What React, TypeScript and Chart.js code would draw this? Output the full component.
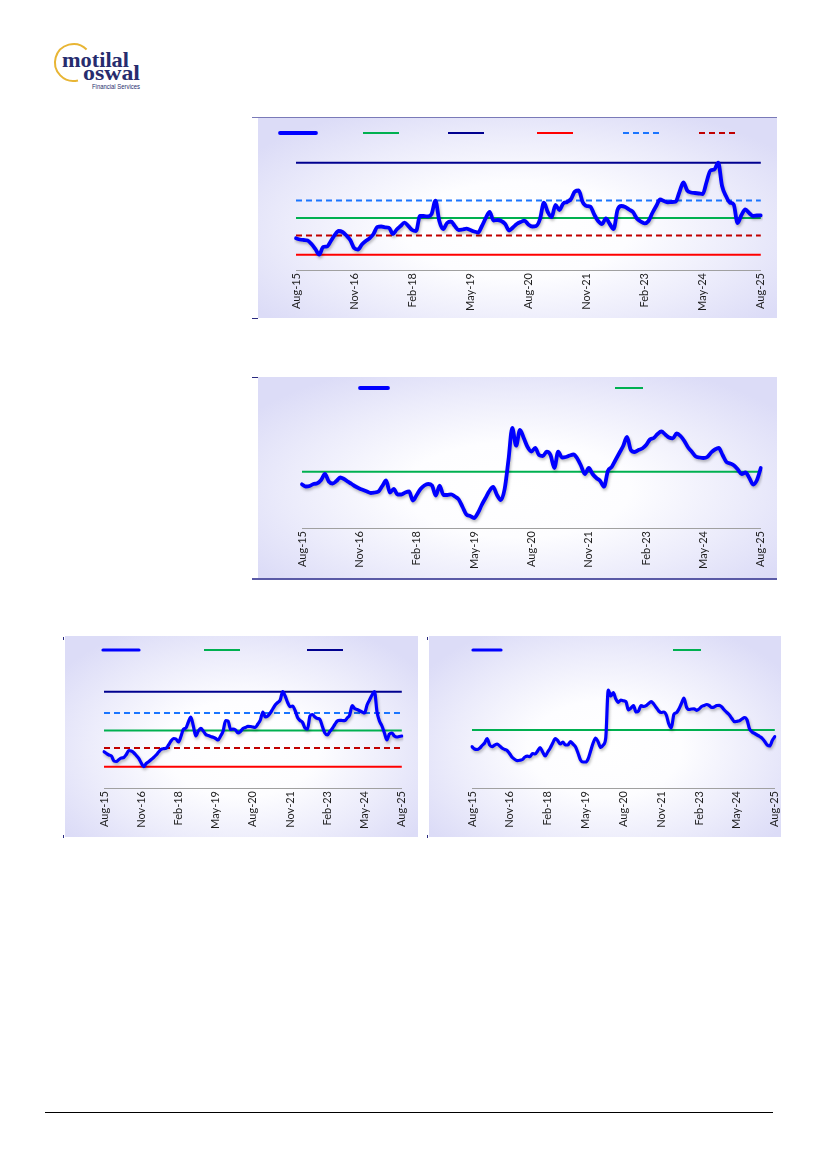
import React, { useEffect, useRef } from "react";
import { Chart, registerables } from "chart.js";

Chart.register(...registerables);

// ---------- categories (monthly, Aug-15 .. Aug-25) ----------
const MONTH_NAMES = ["Jan", "Feb", "Mar", "Apr", "May", "Jun", "Jul", "Aug", "Sep", "Oct", "Nov", "Dec"];
const START_MONTH = 7;
const START_YEAR = 15;
const N_MONTHS = 121;
const categories: string[] = Array.from({ length: N_MONTHS }, (_, i) =>
  `${MONTH_NAMES[(START_MONTH + i) % 12]}-${START_YEAR + Math.floor((START_MONTH + i) / 12)}`
);
const tickLabels = ["Aug-15", "Nov-16", "Feb-18", "May-19", "Aug-20", "Nov-21", "Feb-23", "May-24", "Aug-25"];

// ---------- chart 1: P/E with bands ----------
const peSeries = [
  16.17, 16.05, 16.0, 15.95, 15.6, 15.1, 14.53, 15.3, 15.35, 15.9,
  16.5, 16.9, 16.8, 16.45, 16.0, 15.2, 15.05, 15.55, 15.9, 16.17,
  16.6, 17.3, 17.35, 17.27, 17.23, 16.6, 17.05, 17.4, 17.73, 17.4,
  17.0, 16.9, 18.4, 18.4, 18.35, 18.6, 19.93, 17.9, 17.1, 17.7,
  17.85, 17.4, 17.0, 17.05, 17.13, 17.0, 16.85, 16.75, 17.4, 18.2,
  18.8, 17.95, 18.0, 17.9, 17.6, 16.95, 17.25, 17.6, 17.8, 17.93,
  17.55, 17.35, 17.4, 18.1, 19.73, 18.8, 18.3, 19.5, 19.0, 19.65,
  19.8, 20.1, 20.85, 20.95, 19.8, 19.4, 19.33, 18.55, 17.9, 17.6,
  18.15, 17.6, 17.1, 19.0, 19.4, 19.3, 19.05, 18.8, 18.15, 17.85,
  17.67, 17.9, 18.7, 19.4, 20.05, 19.9, 19.77, 19.8, 19.83, 20.8,
  21.75, 20.95, 20.75, 20.7, 20.65, 20.6, 21.8, 22.95, 23.05, 23.73,
  21.4, 20.4, 19.75, 19.55, 17.7, 18.5, 19.05, 18.7, 18.4, 18.45,
  18.47,
];
const peAvg = 18.2;
const peMax = 23.73;
const peMin = 14.53;
const pePlus1SD = 19.95;
const peMinus1SD = 16.45;

// ---------- chart 2: relative P/E ----------
const relPeSeries = [
  11.57, 11.35, 11.4, 11.6, 11.67, 12.0, 12.6, 11.85, 11.65, 11.9,
  12.25, 12.1, 11.83, 11.6, 11.35, 11.15, 11.0, 10.85, 10.7, 10.75,
  10.85, 11.4, 11.95, 10.75, 11.1, 10.55, 10.55, 10.75, 10.85, 9.95,
  10.5, 11.1, 11.45, 11.6, 11.45, 10.45, 11.43, 10.5, 10.5, 10.57,
  10.35, 10.05, 9.3, 8.55, 8.4, 8.2, 8.7, 9.5, 10.2, 10.9,
  11.3, 10.5, 10.0, 11.1, 14.0, 17.2, 15.43, 17.0, 16.2, 15.3,
  14.85, 15.2, 14.5, 14.4, 14.83, 14.5, 13.2, 14.83, 14.25, 14.3,
  14.45, 14.55, 14.15, 13.4, 12.6, 13.2, 12.6, 12.2, 11.9, 11.33,
  12.9, 13.3, 14.0, 14.7, 15.4, 16.3, 15.0, 14.8, 15.0, 15.15,
  15.5, 16.05, 16.2, 16.6, 16.85, 16.55, 16.25, 16.17, 16.65, 16.4,
  15.9, 15.25, 14.8, 14.35, 14.25, 14.2, 14.3, 14.75, 15.05, 15.2,
  14.5, 13.8, 13.65, 13.45, 13.05, 12.6, 12.75, 12.2, 11.55, 12.0,
  13.2,
];
const relPeAvg = 12.83;

// ---------- chart 3: P/B with bands ----------
const pbSeries = [
  14.83, 14.65, 14.5, 14.4, 13.9, 13.85, 14.05, 14.2, 14.25, 14.55,
  14.95, 14.9, 14.73, 14.45, 14.17, 13.7, 13.33, 13.65, 13.83, 14.05,
  14.25, 14.5, 14.8, 15.07, 15.13, 15.17, 15.5, 15.9, 16.15, 16.1,
  15.8, 16.35, 17.07, 17.2, 17.8, 18.3, 17.4, 16.4, 16.9, 17.17,
  16.9, 16.55, 16.45, 16.35, 16.27, 16.15, 16.0, 16.4, 16.9, 17.95,
  17.9, 17.05, 17.1, 17.0, 16.7, 16.85, 17.15, 17.25, 17.37, 17.35,
  17.3, 17.27, 17.6, 18.0, 18.8, 18.3, 18.4, 18.7, 19.1, 19.5,
  19.75, 20.0, 20.83, 20.4, 19.75, 19.33, 19.4, 18.95, 18.25, 17.95,
  17.75, 17.2, 17.1, 18.4, 18.55, 18.3, 18.15, 18.07, 17.35, 16.7,
  16.5, 16.85, 17.15, 17.55, 17.9, 17.97, 17.95, 17.93, 18.2, 18.5,
  19.45, 19.15, 19.05, 18.93, 18.8, 18.7, 19.5, 20.0, 20.5, 20.83,
  18.83, 17.9, 17.4, 16.7, 16.0, 16.6, 16.7, 16.4, 16.3, 16.35,
  16.4,
];
const pbAvg = 16.95;
const pbMax = 20.83;
const pbMin = 13.33;
const pbPlus1SD = 18.7;
const pbMinus1SD = 15.2;

// ---------- chart 4: relative P/B ----------
const relPbSeries = [
  10.33, 10.1, 10.05, 10.17, 10.45, 10.7, 11.15, 10.5, 10.33, 10.5,
  10.6, 10.4, 10.17, 10.05, 9.93, 9.6, 9.25, 9.05, 8.93, 8.97,
  9.05, 9.3, 9.38, 9.33, 9.65, 9.6, 9.9, 10.25, 9.8, 9.4,
  9.8, 10.2, 10.7, 11.15, 10.93, 10.6, 10.8, 10.5, 10.5, 10.83,
  10.6, 10.33, 9.7, 9.0, 8.8, 8.8, 9.1, 9.9, 10.7, 11.2,
  10.8, 10.25, 10.5, 11.2, 16.0, 15.4, 15.73, 15.1, 14.77, 15.0,
  14.92, 14.83, 14.0, 14.2, 14.45, 13.8, 13.9, 14.45, 14.35, 14.43,
  14.65, 14.83, 14.6, 14.25, 13.9, 13.75, 13.8, 13.5, 12.6, 12.2,
  13.55, 13.73, 14.1, 14.65, 15.2, 14.3, 14.05, 14.1, 14.12, 13.97,
  14.1, 14.35, 14.45, 14.55, 14.45, 14.25, 14.3, 14.45, 14.47, 14.3,
  14.0, 13.75, 13.5, 13.15, 12.83, 12.87, 12.92, 13.1, 13.25, 13.0,
  12.1, 11.8, 11.65, 11.5, 11.35, 11.17, 10.85, 10.5, 10.4, 10.95,
  11.33,
];
const relPbAvg = 12.0;

// ---------- styles ----------
const C_MAIN = "#0000ff";
const C_AVG = "#00b050";
const C_MAX = "#00008f";
const C_MIN = "#ff0000";
const C_PLUS = "#1a75ff";
const C_MINUS = "#c00000";
const TICK_FONT = 'Lato, "Liberation Sans", sans-serif';

const flat = (v: number) => categories.map(() => v);

type SeriesSpec = { label: string; data: number[]; color: string; width: number; dash?: number[]; main?: boolean };
type PanelSpec = {
  left: number; top: number; w: number; h: number; canvasW: number;
  padding: { left: number; right: number; top: number; bottom: number };
  axisH: number; yMin: number; yMax: number;
  legend: { xs: number[]; y: number; len: number };
  series: SeriesSpec[];
};

const bandSeries = (main: number[], avg: number, max: number, min: number, p1: number, m1: number, w: number): SeriesSpec[] => [
  { label: "Main", data: main, color: C_MAIN, width: w, main: true },
  { label: "Avg", data: flat(avg), color: C_AVG, width: 2 },
  { label: "Max", data: flat(max), color: C_MAX, width: 2 },
  { label: "Min", data: flat(min), color: C_MIN, width: 2 },
  { label: "+1SD", data: flat(p1), color: C_PLUS, width: 2, dash: [6, 4] },
  { label: "-1SD", data: flat(m1), color: C_MINUS, width: 2, dash: [6, 4] },
];

const panels: PanelSpec[] = [
  {
    left: 258, top: 118, w: 519, h: 200, canvasW: 519,
    padding: { left: 38, right: 14, top: 22, bottom: 0 },
    axisH: 48, yMin: 13, yMax: 26,
    legend: { xs: [22, 105, 190, 279, 365, 441], y: 15, len: 36 },
    series: bandSeries(peSeries, peAvg, peMax, peMin, pePlus1SD, peMinus1SD, 3.8),
  },
  {
    left: 258, top: 377, w: 519, h: 201, canvasW: 519,
    padding: { left: 44, right: 10, top: 23, bottom: 0 },
    axisH: 50, yMin: 7.2, yMax: 20,
    legend: { xs: [102, 357], y: 11, len: 28 },
    series: [
      { label: "Relative", data: relPeSeries, color: C_MAIN, width: 3.8, main: true },
      { label: "Avg", data: flat(relPeAvg), color: C_AVG, width: 2 },
    ],
  },
  {
    left: 65, top: 636, w: 353, h: 201, canvasW: 353,
    padding: { left: 39, right: 9, top: 34, bottom: 0 },
    axisH: 49, yMin: 11.2, yMax: 23,
    legend: { xs: [38, 139, 242], y: 14, len: 36 },
    series: bandSeries(pbSeries, pbAvg, pbMax, pbMin, pbPlus1SD, pbMinus1SD, 3.2),
  },
  {
    left: 429, top: 636, w: 352, h: 201, canvasW: 362,
    padding: { left: 43, right: 12, top: 34, bottom: 0 },
    axisH: 49, yMin: 6.2, yMax: 18,
    legend: { xs: [44, 244], y: 14, len: 28 },
    series: [
      { label: "Relative", data: relPbSeries, color: C_MAIN, width: 3.2, main: true },
      { label: "Avg", data: flat(relPbAvg), color: C_AVG, width: 2 },
    ],
  },
];

// ---------- plugins ----------
const makeLegendPlugin = (legend: PanelSpec["legend"]) => ({
  id: "lineLegend",
  afterDraw(chart: any) {
    const ctx = chart.ctx;
    chart.data.datasets.forEach((ds: any, i: number) => {
      const x = legend.xs[i];
      if (x === undefined) return;
      ctx.save();
      ctx.strokeStyle = ds.borderColor;
      ctx.lineWidth = ds.borderWidth;
      ctx.setLineDash(ds.borderDash || []);
      ctx.lineCap = ds.borderDash ? "butt" : ds.borderWidth > 2.5 ? "round" : "butt";
      ctx.beginPath();
      ctx.moveTo(x, legend.y);
      ctx.lineTo(x + legend.len, legend.y);
      ctx.stroke();
      ctx.restore();
    });
  },
});

const shadowPlugin = {
  id: "mainShadow",
  beforeDatasetDraw(chart: any, args: any) {
    if (args.index === 0) {
      const c = chart.ctx;
      c.save();
      c.shadowColor = "rgba(0,0,0,0.28)";
      c.shadowBlur = 3;
      c.shadowOffsetX = 1;
      c.shadowOffsetY = 2;
    }
  },
  afterDatasetDraw(chart: any, args: any) {
    if (args.index === 0) chart.ctx.restore();
  },
};

function buildConfig(spec: PanelSpec): any {
  return {
    type: "line",
    data: {
      labels: categories,
      datasets: spec.series.map((s) => ({
        label: s.label,
        data: s.data,
        borderColor: s.color,
        backgroundColor: s.color,
        borderWidth: s.width,
        borderDash: s.dash,
        pointRadius: 0,
        pointHoverRadius: 0,
        fill: false,
        tension: s.main ? 0.4 : 0,
        cubicInterpolationMode: s.main ? "monotone" : "default",
        borderCapStyle: s.main ? "round" : "butt",
        borderJoinStyle: "round",
      })),
    },
    options: {
      responsive: false,
      animation: false,
      events: [],
      layout: { padding: spec.padding },
      plugins: { legend: { display: false }, tooltip: { enabled: false }, title: { display: false } },
      scales: {
        x: {
          type: "category",
          offset: false,
          grid: { display: false, drawTicks: false },
          border: { display: true, color: "#a0a0a0", width: 1 },
          ticks: {
            autoSkip: false,
            maxRotation: 90,
            minRotation: 90,
            padding: 3,
            color: "#1e1e1e",
            font: { family: TICK_FONT, size: 11 },
            callback: (_v: any, i: number) => (tickLabels.includes(categories[i]) ? categories[i] : ""),
          },
          afterFit: (scale: any) => {
            scale.height = spec.axisH;
          },
        },
        y: { display: false, min: spec.yMin, max: spec.yMax },
      },
    },
    plugins: [makeLegendPlugin(spec.legend), shadowPlugin],
  };
}

function Panel({ spec }: { spec: PanelSpec }) {
  const ref = useRef<HTMLCanvasElement>(null);
  useEffect(() => {
    if (!ref.current) return;
    const chart = new Chart(ref.current, buildConfig(spec));
    return () => chart.destroy();
  }, [spec]);
  return (
    <div
      style={{
        position: "absolute",
        left: spec.left,
        top: spec.top,
        width: spec.w,
        height: spec.h,
        overflow: "hidden",
        background:
          "radial-gradient(ellipse 62% 68% at 50% 56%, #ffffff 0%, #fdfdff 35%, #ececfb 70%, #dcdcf7 100%)",
      }}
    >
      <canvas
        ref={ref}
        width={spec.canvasW}
        height={spec.h}
        style={{ position: "absolute", left: 0, top: 0, display: "block" }}
      />
    </div>
  );
}

const Bar = ({ l, t, w, h, c }: { l: number; t: number; w: number; h: number; c: string }) => (
  <div style={{ position: "absolute", left: l, top: t, width: w, height: h, background: c }} />
);

function Logo() {
  return (
    <svg
      width={200}
      height={100}
      style={{ position: "absolute", left: 0, top: 0 }}
      viewBox="0 0 200 100"
    >
      <path
        d="M 77.98 80.45 A 18.5 18.5 0 1 1 86.58 49.42"
        fill="none"
        stroke="#e8b534"
        strokeWidth={2}
      />
      <text
        x={62}
        y={66.5}
        fontFamily='"Liberation Serif", "DejaVu Serif", serif'
        fontWeight="bold"
        fontSize={21}
        fill="#272c6e"
        textLength={67}
        lengthAdjust="spacingAndGlyphs"
      >
        motilal
      </text>
      <text
        x={83}
        y={79.5}
        fontFamily='"Liberation Serif", "DejaVu Serif", serif'
        fontWeight="bold"
        fontSize={21}
        fill="#272c6e"
        textLength={57}
        lengthAdjust="spacingAndGlyphs"
      >
        oswal
      </text>
      <text
        x={92}
        y={89}
        fontFamily='"Liberation Sans", Arial, sans-serif'
        fontSize={7}
        fill="#272c6e"
        textLength={48}
        lengthAdjust="spacingAndGlyphs"
      >
        Financial Services
      </text>
    </svg>
  );
}

export default function App() {
  return (
    <div style={{ position: "absolute", left: 0, top: 0, width: 827, height: 1160, background: "#ffffff" }}>
      <Logo />
      <Bar l={252} t={117} w={525} h={1} c="#7a7ab8" />
      <Bar l={252} t={318} w={6} h={1} c="#2a2a80" />
      <Bar l={252} t={377} w={6} h={1} c="#2a2a80" />
      <Bar l={252} t={578} w={525} h={1.5} c="#5a5aa6" />
      <Bar l={63} t={637} w={1} h={3} c="#2a2a80" />
      <Bar l={63} t={835} w={1} h={3} c="#2a2a80" />
      <Bar l={427} t={637} w={1} h={3} c="#2a2a80" />
      <Bar l={427} t={835} w={1} h={3} c="#2a2a80" />
      {panels.map((p, i) => (
        <Panel key={i} spec={p} />
      ))}
      <Bar l={45} t={1112} w={728} h={1} c="#000000" />
    </div>
  );
}
